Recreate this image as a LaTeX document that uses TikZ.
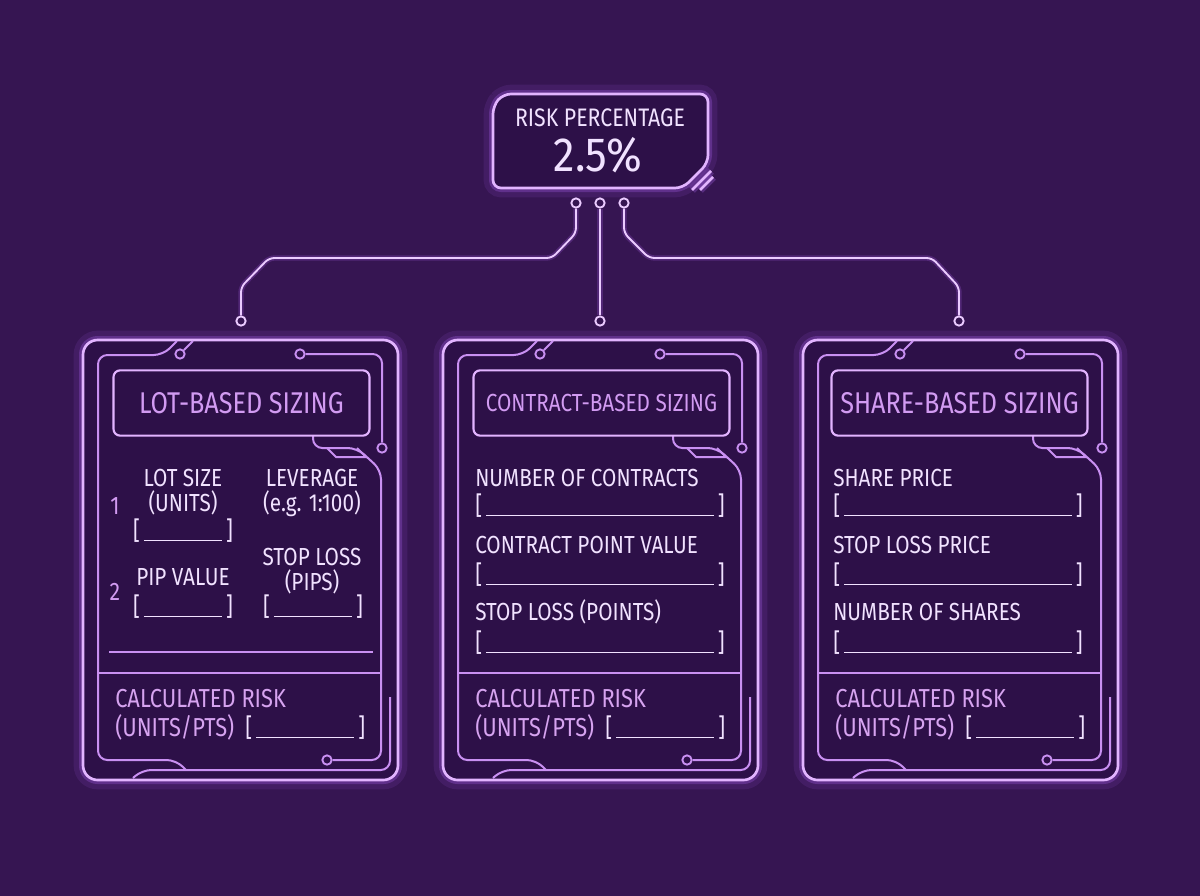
\documentclass[tikz,border=0pt]{standalone}
\usepackage{fontspec}
\setmainfont{Fira Sans}[FakeStretch=0.84]
\usetikzlibrary{positioning,calc}
\definecolor{bgc}{HTML}{361552}
\definecolor{panelc}{HTML}{2D1048}
\definecolor{linec}{HTML}{E2B4FF}
\definecolor{glowc}{HTML}{A65EE8}
\definecolor{tracec}{HTML}{C990F2}
\definecolor{wirec}{HTML}{EBCBFF}
\definecolor{hdrc}{HTML}{D29BF2}
\definecolor{txtc}{HTML}{F1E2FF}
\definecolor{calcc}{HTML}{D6A3F0}
\newcommand{\entryfield}[1]{\makebox[#1][s]{[\hspace{3pt}\leaders\hrule height -0.6pt depth 1.8pt\hfill\hspace{3pt}]}}

\begin{document}
\begin{tikzpicture}[x=0.75pt, y=-0.75pt,
    glow/.style={draw=glowc, line width=14pt, opacity=0.12},
    frame/.style={draw=linec, line width=2pt, preaction={draw=glowc, line width=6pt, opacity=0.3}},
    trace/.style={draw=tracec, line width=1.5pt, rounded corners=7pt},
    wire/.style={draw=wirec, line width=1.4pt, rounded corners=4pt, preaction={draw=glowc, line width=4pt, opacity=0.25}},
    socket/.style={circle, draw=wirec, line width=1.4pt, fill=bgc, minimum size=7pt, inner sep=0pt},
    tsocket/.style={circle, draw=tracec, line width=1.4pt, fill=panelc, minimum size=7pt, inner sep=0pt},
    hdrbox/.style={draw=linec, line width=1.6pt, rounded corners=5pt, minimum width=192pt, minimum height=49pt, font=\fontsize{22.5}{25}\selectfont, text=hdrc},
    lbl/.style={font=\fontsize{18.5}{21}\selectfont, text=txtc, inner sep=0pt},
    num/.style={font=\fontsize{19}{21}\selectfont, text=hdrc, inner sep=0pt},
    calctxt/.style={font=\fontsize{19.5}{22}\selectfont, text=calcc, inner sep=0pt},
    fld/.style={font=\fontsize{19}{22}\selectfont, text=txtc, inner sep=0pt}
]
\fill[bgc] (0,0) rectangle (1200,896);

\draw[glow, rounded corners=6pt] (493,106) -- (503,94) -- (708,94) -- (708,163) -- (683,188) -- (493,188) -- cycle;
\draw[frame, fill=panelc, rounded corners=6pt] (493,106) -- (503,94) -- (708,94) -- (708,163) -- (683,188) -- (493,188) -- cycle;
\draw[frame] (692,190) -- (711,171);
\draw[frame] (700,190) -- (713,177);
\node[font=\fontsize{19}{21}\selectfont, text=txtc] (rtitle) at (600,118) {RISK PERCENTAGE};
\node[font=\fontsize{36}{38}\selectfont\addfontfeature{FakeStretch=0.9}, text=txtc] (rval) at (598,155) {2.5\%};

\node[socket] (rL) at (576,203) {};
\node[socket] (rM) at (600,203) {};
\node[socket] (rR) at (624,203) {};
\node[socket] (p1) at (241,321) {};
\node[socket] (p2) at (600,321) {};
\node[socket] (p3) at (959,321) {};
\draw[wire] (rL) -- (576,233) -- (552,258) -- (269,258) -- (241,287) -- (p1);
\draw[wire] (rM) -- (p2);
\draw[wire] (rR) -- (624,233) -- (649,258) -- (932,258) -- (959,287) -- (p3);

\foreach \o [count=\i] in {0,360,720}{
\begin{scope}[shift={(\o,0)}]
  \draw[glow, rounded corners=11pt] (83,340) rectangle (398,780);
  \draw[frame, fill=panelc, rounded corners=11pt] (83,340) rectangle (398,780);
  \draw[trace] (177,341) -- (163,355) -- (98,355) -- (98,760) -- (176,760) -- (186,770);
  \node[tsocket] (a\i) at (180,354) {};
  \draw[trace] (a\i) -- (193,341);
  \node[tsocket] (b\i) at (300,354) {};
  \node[tsocket] (c\i) at (382,448) {};
  \draw[trace] (b\i) -- (382,354) -- (c\i);
  \node[tsocket] (d\i) at (327,760) {};
  \draw[trace] (313,436) -- (313,448) -- (357,448) -- (381,470) -- (381,760) -- (d\i);
  \draw[trace, sharp corners] (327,448) -- (336,457) -- (366,457) -- (357,448);
  \draw[trace] (133,778) -- (142,770) -- (390,770) -- (390,697);
  \draw[trace] (98,673) -- (382,673);
  \node[calctxt, anchor=base west] (crisk\i) at (115,707) {CALCULATED RISK};
  \node[calctxt, anchor=base west] (cunit\i) at (115,736) {(UNITS/PTS)};
  \node[fld, anchor=base west] (cfld\i) at (245,736) {\entryfield{90pt}};
\end{scope}}

\node[hdrbox] (lothdr) at (241.5,403) {LOT-BASED SIZING};
\node[num, anchor=base] (n1) at (115,514) {1};
\node[lbl, anchor=base] (lotsz) at (183,486) {LOT SIZE};
\node[lbl, anchor=base] (lotun) at (183,511) {(UNITS)};
\node[fld, anchor=base] (lotf) at (183,539) {\entryfield{75pt}};
\node[lbl, anchor=base] (lev) at (312,486) {LEVERAGE};
\node[lbl, anchor=base] (levex) at (312,511) {(e.g. 1:100)};
\node[num, anchor=base] (n2) at (115,600) {2};
\node[lbl, anchor=base] (pip) at (183,585) {PIP VALUE};
\node[fld, anchor=base] (pipf) at (183,615) {\entryfield{75pt}};
\node[lbl, anchor=base] (sl) at (312,565) {STOP LOSS};
\node[lbl, anchor=base] (slun) at (312,590) {(PIPS)};
\node[fld, anchor=base] (slf) at (313,615) {\entryfield{75pt}};
\draw[trace] (109,652) -- (373,652);

\begin{scope}[shift={(360,0)}]
\node[hdrbox, font=\fontsize{18.5}{21}\selectfont] (conhdr) at (241.5,403) {CONTRACT-BASED SIZING};
\node[lbl, anchor=base west] (ncon) at (115,486) {NUMBER OF CONTRACTS};
\node[fld, anchor=base west] (nconf) at (115,514) {\entryfield{187pt}};
\node[lbl, anchor=base west] (cpv) at (115,553) {CONTRACT POINT VALUE};
\node[fld, anchor=base west] (cpvf) at (115,583) {\entryfield{187pt}};
\node[lbl, anchor=base west] (slpt) at (115,620) {STOP LOSS (POINTS)};
\node[fld, anchor=base west] (slptf) at (115,651) {\entryfield{187pt}};
\end{scope}

\begin{scope}[shift={(720,0)}]
\node[hdrbox] (shrhdr) at (239.5,403) {SHARE-BASED SIZING};
\node[lbl, anchor=base west] (sprc) at (113,486) {SHARE PRICE};
\node[fld, anchor=base west] (sprcf) at (113,514) {\entryfield{187pt}};
\node[lbl, anchor=base west] (slprc) at (113,553) {STOP LOSS PRICE};
\node[fld, anchor=base west] (slprcf) at (113,583) {\entryfield{187pt}};
\node[lbl, anchor=base west] (nshr) at (113,620) {NUMBER OF SHARES};
\node[fld, anchor=base west] (nshrf) at (113,651) {\entryfield{187pt}};
\end{scope}
\end{tikzpicture}
\end{document}
